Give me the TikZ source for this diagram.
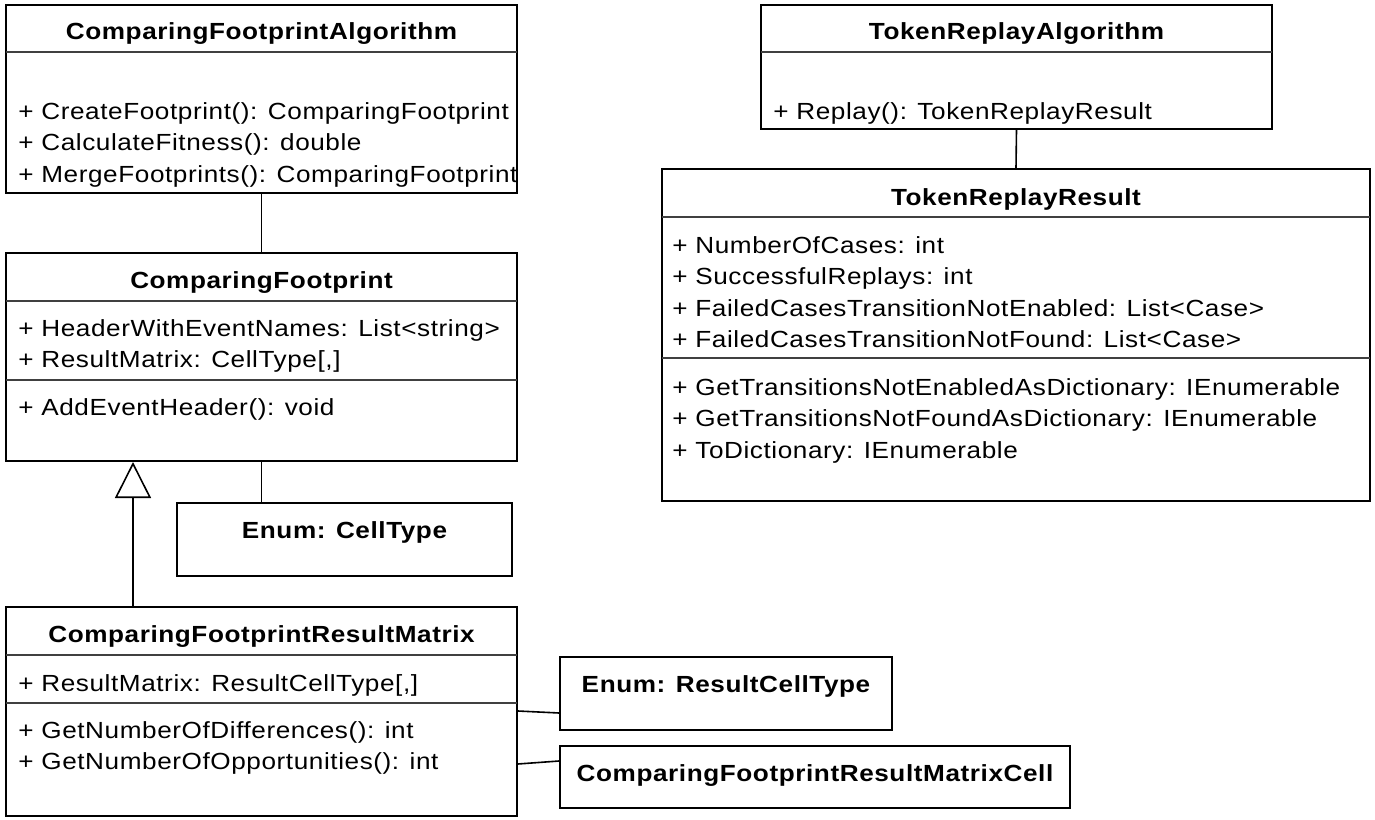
\documentclass[tikz,border=0pt]{standalone}
\usepackage{fontspec}
\setmainfont[FakeStretch=1.12,LetterSpace=2.5]{Liberation Sans}
\usetikzlibrary{fit,arrows.meta}
\begin{document}
\begin{tikzpicture}[x=0.75pt,y=-0.75pt,
  box/.style={draw=black,line width=1.3pt,inner sep=0pt,fill=none},
  divline/.style={draw=black!75,line width=1.2pt},
  conn/.style={draw=black,line width=1.2pt},
  gen/.style={draw=black,line width=1.2pt,-{Triangle[open,length=27pt,width=27pt,line width=1.2pt]}},
  ttl/.style={font=\fontsize{17.5}{20}\selectfont\bfseries,inner sep=0pt,anchor=base},
  mem/.style={font=\fontsize{17.5}{20}\selectfont,inner sep=0pt,anchor=base west}]
\useasboundingbox (0,0) rectangle (1375,820);

% ComparingFootprintAlgorithm
\node[box,fit={(6,5)(517,193)}] (cfa) {};
\draw[divline] (6,52) -- (517,52);
\node[ttl] (cfat) at (261.5,40) {ComparingFootprintAlgorithm};
\begin{scope}
\clip (6,5) rectangle (516,193);
\node[mem] (cfa1) at (18,120) {+ CreateFootprint(): ComparingFootprint};
\node[mem] (cfa2) at (18,151) {+ CalculateFitness(): double};
\node[mem] (cfa3) at (18,183) {+ MergeFootprints(): ComparingFootprint};
\end{scope}

% ComparingFootprint
\node[box,fit={(6,253)(517,461)}] (cf) {};
\draw[divline] (6,301) -- (517,301);
\draw[divline] (6,380) -- (517,380);
\node[ttl] (cft) at (261.5,288) {ComparingFootprint};
\node[mem] (cf1) at (18,336) {+ HeaderWithEventNames: List<string>};
\node[mem] (cf2) at (18,367) {+ ResultMatrix: CellType[,]};
\node[mem] (cf3) at (18,415) {+ AddEventHeader(): void};

% Enum CellType
\node[box,fit={(177,503)(512,576)}] (ct) {};
\node[ttl] (ctt) at (344.5,538) {Enum: CellType};

% ComparingFootprintResultMatrix
\node[box,fit={(6,607)(517,816)}] (cfrm) {};
\draw[divline] (6,655) -- (517,655);
\draw[divline] (6,703) -- (517,703);
\node[ttl] (cfrmt) at (261.5,642) {ComparingFootprintResultMatrix};
\node[mem] (cfrm1) at (18,691) {+ ResultMatrix: ResultCellType[,]};
\node[mem] (cfrm2) at (18,738) {+ GetNumberOfDifferences(): int};
\node[mem] (cfrm3) at (18,769) {+ GetNumberOfOpportunities(): int};

% Enum ResultCellType
\node[box,fit={(560,657)(892,730)}] (rct) {};
\node[ttl] (rctt) at (726,692) {Enum: ResultCellType};

% ComparingFootprintResultMatrixCell
\node[box,fit={(560,746)(1070,808)}] (cell) {};
\node[ttl] (cellt) at (815,781) {ComparingFootprintResultMatrixCell};

% TokenReplayAlgorithm
\node[box,fit={(761,5)(1272,129)}] (tra) {};
\draw[divline] (761,52) -- (1272,52);
\node[ttl] (trat) at (1016.5,40) {TokenReplayAlgorithm};
\node[mem] (tra1) at (773,120) {+ Replay(): TokenReplayResult};

% TokenReplayResult
\node[box,fit={(662,169)(1370,501)}] (trr) {};
\draw[divline] (662,217) -- (1370,217);
\draw[divline] (662,358) -- (1370,358);
\node[ttl] (trrt) at (1016,206) {TokenReplayResult};
\node[mem] (trr1) at (672,253) {+ NumberOfCases: int};
\node[mem] (trr2) at (672,284) {+ SuccessfulReplays: int};
\node[mem] (trr3) at (672,316) {+ FailedCasesTransitionNotEnabled: List<Case>};
\node[mem] (trr4) at (672,347) {+ FailedCasesTransitionNotFound: List<Case>};
\node[mem] (trr5) at (672,395) {+ GetTransitionsNotEnabledAsDictionary: IEnumerable};
\node[mem] (trr6) at (672,426) {+ GetTransitionsNotFoundAsDictionary: IEnumerable};
\node[mem] (trr7) at (672,458) {+ ToDictionary: IEnumerable};

% connectors
\draw[conn] (cfa.south) -- (cf.north);
\draw[conn] (cf.south) -- (cf.south |- ct.north);
\coordinate (gbot) at (133,607);
\coordinate (gtop) at (133,462);
\draw[gen] (gbot) -- (gtop);
\draw[conn] (cfrm.east |- 0,711) -- (rct.west |- 0,713);
\draw[conn] (cfrm.east |- 0,764) -- (cell.west |- 0,761);
\draw[conn] (tra.south) -- (trr.north);
\end{tikzpicture}
\end{document}
